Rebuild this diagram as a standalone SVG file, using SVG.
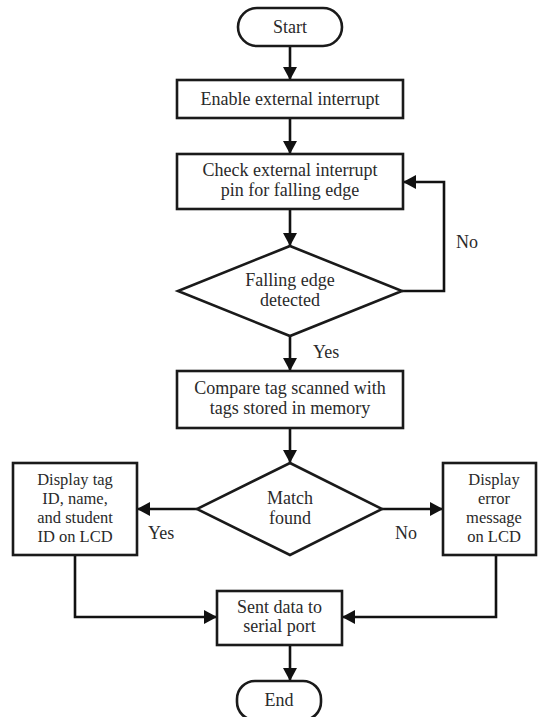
<svg xmlns="http://www.w3.org/2000/svg" width="538" height="717" viewBox="0 0 538 717">
<defs>
<marker id="ah" markerUnits="userSpaceOnUse" markerWidth="14" markerHeight="14" refX="13" refY="7" orient="auto">
<path d="M0,0 L13,7 L0,14 z" fill="#111"/>
</marker>
<style>
.box{fill:#fff;stroke:#1a1a1a;stroke-width:2.6}
.t{font-family:"Liberation Serif","Times New Roman",serif;font-size:18px;fill:#2a2a2a;text-anchor:middle}
.s{font-size:16.5px}
.c{fill:none;stroke:#111;stroke-width:2.6;marker-end:url(#ah)}
.lbl{font-family:"Liberation Serif","Times New Roman",serif;font-size:18px;fill:#2a2a2a}
</style>
</defs>
<rect width="538" height="717" fill="#fff"/>
<g id="connectors">
<path class="c" d="M290,46 V80"/>
<path class="c" d="M290,118 V154"/>
<path class="c" d="M290,209 V246"/>
<path class="c" d="M402,291 H444 V182 H403"/>
<path class="c" d="M290,336 V371"/>
<path class="c" d="M290,428 V463"/>
<path class="c" d="M197,509 H137"/>
<path class="c" d="M382,509 H443"/>
<path class="c" d="M75,555 V617 H217"/>
<path class="c" d="M496,555 V617 H342"/>
<path class="c" d="M290,645 V681"/>
<text class="lbl" x="456" y="248">No</text>
<text class="lbl" x="313" y="358">Yes</text>
<text class="lbl" x="148" y="539">Yes</text>
<text class="lbl" x="395" y="539">No</text>
</g>
<g id="start">
<rect class="box" x="238" y="8" width="104" height="38" rx="19"/>
<text class="t" x="290" y="33">Start</text>
</g>
<g id="enable">
<rect class="box" x="177" y="80" width="226" height="38"/>
<text class="t" x="290" y="105">Enable external interrupt</text>
</g>
<g id="check">
<rect class="box" x="177" y="154" width="226" height="55"/>
<text class="t" x="290" y="176">Check external interrupt</text>
<text class="t" x="290" y="196">pin for falling edge</text>
</g>
<g id="falling">
<polygon class="box" points="290,246 402,291 290,336 178,291"/>
<text class="t" x="290" y="286">Falling edge</text>
<text class="t" x="290" y="306">detected</text>
</g>
<g id="compare">
<rect class="box" x="177" y="371" width="226" height="57"/>
<text class="t" x="290" y="394">Compare tag scanned with</text>
<text class="t" x="290" y="414">tags stored in memory</text>
</g>
<g id="match">
<polygon class="box" points="290,463 382,509 290,555 197,509"/>
<text class="t" x="290" y="504">Match</text>
<text class="t" x="290" y="524">found</text>
</g>
<g id="display-tag">
<rect class="box" x="13" y="463" width="124" height="92"/>
<text class="t s" x="75" y="485">Display tag</text>
<text class="t s" x="75" y="504">ID, name,</text>
<text class="t s" x="75" y="523">and student</text>
<text class="t s" x="75" y="542">ID on LCD</text>
</g>
<g id="display-error">
<rect class="box" x="443" y="463" width="93" height="92"/>
<text class="t s" x="494" y="485">Display</text>
<text class="t s" x="494" y="504">error</text>
<text class="t s" x="494" y="523">message</text>
<text class="t s" x="494" y="542">on LCD</text>
</g>
<g id="sent">
<rect class="box" x="217" y="591" width="125" height="54"/>
<text class="t" x="279.5" y="613">Sent data to</text>
<text class="t" x="279.5" y="632">serial port</text>
</g>
<g id="end">
<rect class="box" x="237" y="681" width="84" height="39" rx="18"/>
<text class="t" x="279" y="706">End</text>
</g>
</svg>
